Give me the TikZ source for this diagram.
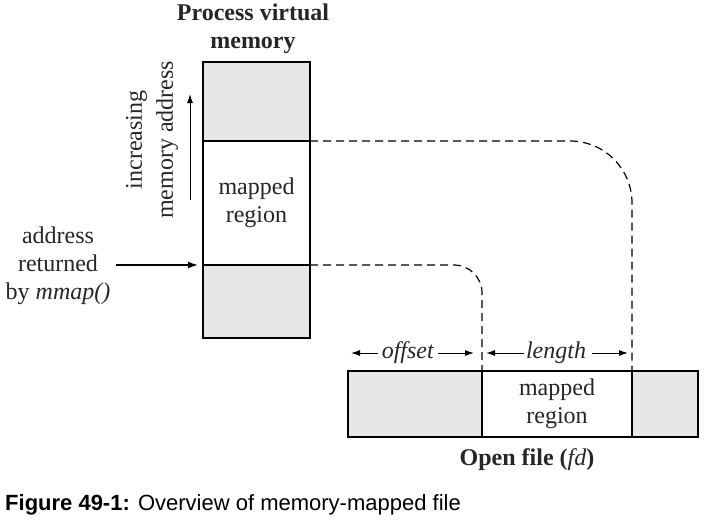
\documentclass[tikz,border=0pt]{standalone}
\usepackage{fontspec}
\setmainfont{Liberation Serif}
\newfontfamily\capfont{Liberation Sans}
\usetikzlibrary{arrows.meta}
\definecolor{boxgray}{HTML}{E6E7E8}
\tikzset{
  part/.style={draw=black, line width=1.1pt, minimum width=107pt, inner sep=0pt, outer sep=0pt},
  grayp/.style={part, fill=boxgray},
  whitep/.style={part, fill=white},
  lbl/.style={font=\fontsize{24}{28}\selectfont, align=center, inner sep=0pt, text=black!85},
  arr/.style={line width=1.4pt, -{Latex[length=10pt,width=7pt]}},
  dimarr/.style={line width=1pt, -{Latex[length=9pt,width=6pt]}},
  conn/.style={draw=black, dash pattern=on 8pt off 5pt, line width=1.2pt},
  frame/.style={line width=2.6pt}
}
\begin{document}
\begin{tikzpicture}[x=1pt,y=-1pt]
\useasboundingbox (0,0) rectangle (714,519);
% process virtual memory
\node[grayp, minimum height=79pt] (ptop) at (256.5,101.5) {};
\node[whitep, minimum height=124pt] (pmap) at (256.5,203) {};
\node[grayp, minimum height=73pt] (pbot) at (256.5,301.5) {};
\draw[frame] (ptop.north west) rectangle (pbot.south east);
\node[lbl] (pmaplbl) at (pmap.center) {mapped\\region};
\node[lbl, font=\bfseries\fontsize{24}{28}\selectfont] (ptitle) at (253,29) {Process virtual\\memory};
% open file
\node[grayp, minimum width=134pt, minimum height=66pt] (fleft) at (415,404) {};
\node[whitep, minimum width=150pt, minimum height=66pt] (fmap) at (557,404) {};
\node[grayp, minimum width=66pt, minimum height=66pt] (fright) at (665,404) {};
\draw[frame] (fleft.north west) rectangle (fright.south east);
\node[lbl] (fmaplbl) at (fmap.center) {mapped\\region};
\node[lbl] (ftitle) at (527,460) {\textbf{Open file (}\textit{fd}\textbf{)}};
% dashed connectors
\draw[conn, rounded corners=62pt] (pmap.north east) -| (fmap.north east);
\draw[conn, rounded corners=28pt] (pmap.south east) -| (fmap.north west);
% increasing memory address
\node[lbl, rotate=90, font=\fontsize{24}{31}\selectfont] (incr) at (152,140) {increasing\\memory address};
\coordinate (incrS) at (190,200);
\coordinate (incrE) at (190,94);
\draw[dimarr] (incrS) -- (incrE);
% address returned
\node[lbl] (addr) at (58,266) {address\\returned\\by \textit{mmap()}};
\coordinate (addrS) at (116,265);
\draw[arr, shorten >=5pt] (addrS) -- (pmap.south west);
% offset / length
\node[lbl, inner xsep=4pt] (offs) at (408,353) {\textit{offset}};
\coordinate (offL) at (351,353);
\coordinate (offR) at (474,353);
\draw[dimarr] (offs.west) -- (offL);
\draw[dimarr] (offs.east) -- (offR);
\node[lbl, inner xsep=2pt] (leng) at (556,353) {\textit{length}};
\coordinate (lenL) at (486,353);
\coordinate (lenR) at (628,353);
\draw[dimarr] (leng.west) -- (lenL);
\draw[dimarr] ([xshift=4pt]leng.east) -- (lenR);
% caption
\node[anchor=base west, inner sep=0pt, font=\capfont\fontsize{22}{26}\selectfont] (cap) at (5,510) {\textbf{Figure 49-1:} Overview of memory-mapped file};
\end{tikzpicture}
\end{document}
